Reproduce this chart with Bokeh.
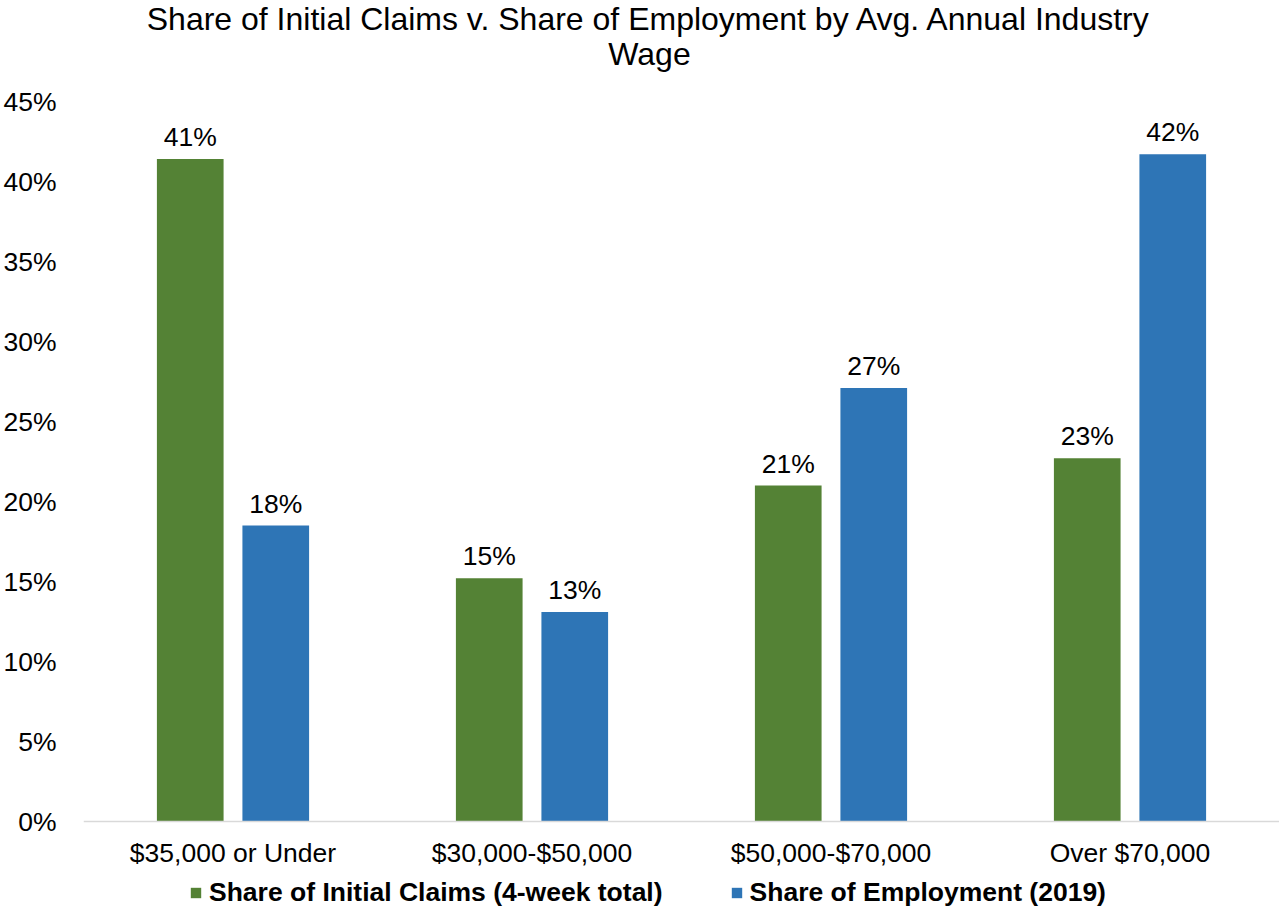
from bokeh.plotting import figure
from bokeh.models import (FactorRange, Range1d, ColumnDataSource, LabelSet, Legend,
                          LegendItem, Label, NumeralTickFormatter, FixedTicker,
                          CategoricalAxis)
from bokeh.core.properties import value
from bokeh.transform import dodge
from bokeh.embed import file_html
from bokeh.resources import INLINE

categories = ["$35,000 or Under", "$30,000-$50,000", "$50,000-$70,000", "Over $70,000"]
claims_share = [41.4, 15.2, 21.0, 22.7]
employment_share = [18.5, 13.1, 27.1, 41.7]
series_names = ["Share of Initial Claims (4-week total)", "Share of Employment (2019)"]
title_lines = ["Share of Initial Claims v. Share of Employment by Avg. Annual Industry", "Wage"]
y_ticks = [0, 5, 10, 15, 20, 25, 30, 35, 40, 45]

GREEN = "#548235"
BLUE = "#2E75B6"
FONT = "Liberation Sans"
FS = "26.5px"
TFS = "32px"

src = ColumnDataSource(dict(
    cat=categories,
    claims=claims_share,
    emp=employment_share,
    claims_lbl=[f"{round(v):.0f}%" for v in claims_share],
    emp_lbl=[f"{round(v):.0f}%" for v in employment_share],
))

FW, FH = 1196, 910
p = figure(x_range=FactorRange(*categories, range_padding=0), y_range=Range1d(-5.5625, 51.3125),
           frame_width=FW, frame_height=FH, output_backend="svg", toolbar_location=None,
           x_axis_location=None,
           min_border_left=80, min_border_right=0, min_border_top=0, min_border_bottom=0)
p.title = None
p.outline_line_color = None
p.xgrid.grid_line_color = None
p.ygrid.grid_line_color = None

r1 = p.vbar(x=dodge("cat", -0.143, range=p.x_range), top="claims", width=0.223,
            source=src, fill_color=GREEN, line_color=None)
r2 = p.vbar(x=dodge("cat", 0.143, range=p.x_range), top="emp", width=0.223,
            source=src, fill_color=BLUE, line_color=None)

for col, lbl, off in [("claims", "claims_lbl", -0.143), ("emp", "emp_lbl", 0.143)]:
    ls = LabelSet(x=dodge("cat", off, range=p.x_range), y=col, text=lbl, source=src,
                  text_align="center", text_baseline="alphabetic", y_offset=13,
                  text_font=value(FONT), text_font_size=value(FS), text_color="#000000")
    p.add_layout(ls)

# y axis
p.yaxis.ticker = FixedTicker(ticks=y_ticks)
p.yaxis.formatter = NumeralTickFormatter(format="0")
p.yaxis.major_label_overrides = {t: f"{t}%" for t in y_ticks}
p.yaxis.axis_line_color = None
p.yaxis.major_tick_line_color = None
p.yaxis.minor_tick_line_color = None
p.yaxis.major_label_text_font = FONT
p.yaxis.major_label_text_font_size = FS
p.yaxis.major_label_text_color = "#000000"
p.yaxis.major_label_standoff = 21

# x axis at the zero line
xaxis = CategoricalAxis(fixed_location=0)
xaxis.axis_line_color = "#d9d9d9"
xaxis.axis_line_width = 1.5
xaxis.major_tick_line_color = None
xaxis.minor_tick_line_color = None
xaxis.major_label_text_font = FONT
xaxis.major_label_text_font_size = FS
xaxis.major_label_text_color = "#000000"
xaxis.major_label_standoff = 10
p.add_layout(xaxis, "below")

legend = Legend(items=[LegendItem(label=series_names[0], renderers=[r1]),
                       LegendItem(label=series_names[1], renderers=[r2])],
                orientation="horizontal", location=(106, 2),
                glyph_width=13, glyph_height=13, label_standoff=7, spacing=67,
                padding=0, margin=0, border_line_color=None, background_fill_alpha=0,
                label_text_font=FONT, label_text_font_size=FS,
                label_text_font_style="bold", label_text_color="#000000")
p.add_layout(legend, "center")

for txt, yy in [(title_lines[0], FH - 18), (title_lines[1], FH - 53)]:
    p.add_layout(Label(x=566, y=yy, x_units="screen", y_units="screen", text=txt,
                       text_align="center", text_baseline="alphabetic",
                       text_font=FONT, text_font_size=TFS, text_color="#000000"))

open("out.html", "w").write(file_html(p, INLINE))
